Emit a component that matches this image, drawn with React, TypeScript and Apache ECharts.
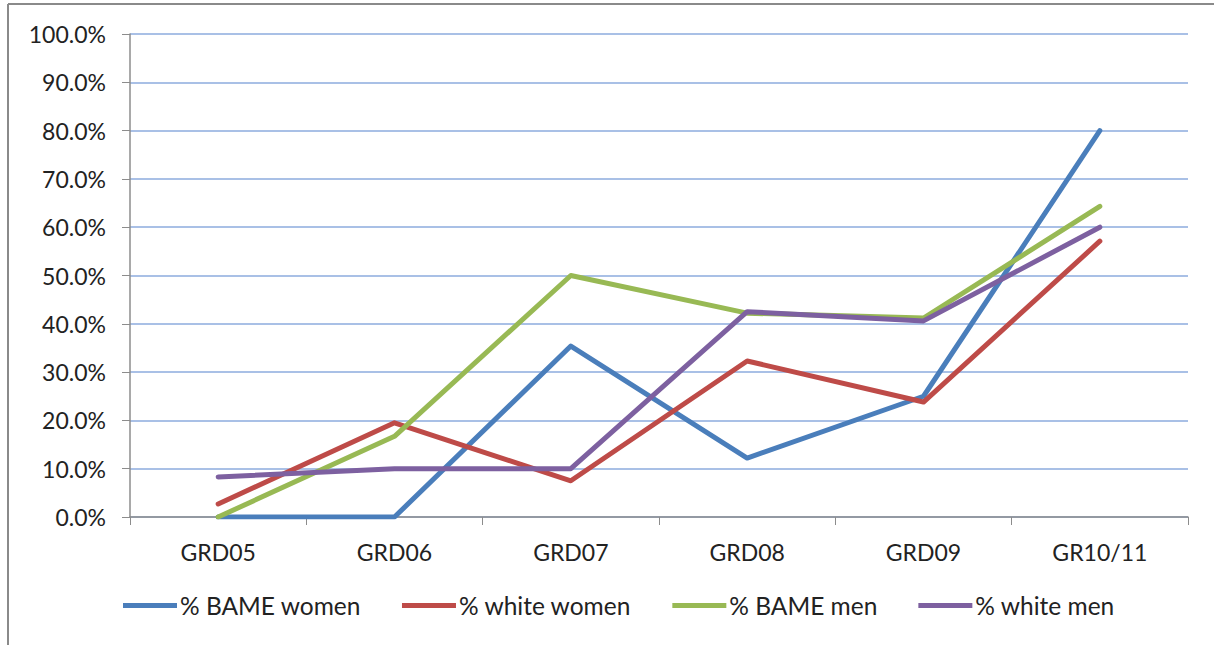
import React, { useEffect, useRef } from "react";
import * as echarts from "echarts";

const categories = ["GRD05", "GRD06", "GRD07", "GRD08", "GRD09", "GR10/11"];
const bameWomen = [0.0, 0.0, 35.4, 12.2, 25.0, 80.0];
const whiteWomen = [2.7, 19.5, 7.5, 32.3, 23.8, 57.1];
const bameMen = [0.0, 16.7, 50.0, 42.2, 41.2, 64.3];
const whiteMen = [8.3, 10.0, 10.0, 42.5, 40.6, 60.0];

const seriesDefs = [
  { name: "% BAME women", data: bameWomen, color: "#4A7EBB" },
  { name: "% white women", data: whiteWomen, color: "#BE4B48" },
  { name: "% BAME men", data: bameMen, color: "#98B954" },
  { name: "% white men", data: whiteMen, color: "#7D60A0" },
];

const FONT = "Lato, 'Open Sans', sans-serif";

export default function App() {
  const ref = useRef<HTMLDivElement>(null);

  useEffect(() => {
    document.body.style.margin = "0";
    const chart = echarts.init(ref.current!, null, { renderer: "svg" });
    chart.setOption({
      animation: false,
      backgroundColor: "#ffffff",
      textStyle: { fontFamily: FONT },
      graphic: [
        {
          type: "line",
          shape: { x1: 8, y1: 4, x2: 1214, y2: 4 },
          style: { stroke: "#8a8a8a", lineWidth: 2 },
        },
        {
          type: "line",
          shape: { x1: 8, y1: 4, x2: 8, y2: 645 },
          style: { stroke: "#8a8a8a", lineWidth: 2 },
        },
      ],
      grid: { left: 130, right: 26, top: 34, bottom: 128 },
      legend: {
        bottom: 22,
        left: 118,
        icon: "rect",
        itemWidth: 54,
        itemHeight: 5,
        itemGap: 41,
        textStyle: { fontFamily: FONT, fontSize: 24.5, color: "#222", padding: [0, 0, 0, -2] },
        data: seriesDefs.map((s) => s.name),
      },
      xAxis: {
        type: "category",
        data: categories,
        boundaryGap: true,
        axisLine: { lineStyle: { color: "#8c8c8c", width: 1.5 } },
        axisTick: { show: true, length: 8, lineStyle: { color: "#8c8c8c" } },
        axisLabel: { fontFamily: FONT, fontSize: 23, color: "#222", margin: 23 },
      },
      yAxis: {
        type: "value",
        min: 0,
        max: 100,
        interval: 10,
        axisLine: { show: true, lineStyle: { color: "#8c8c8c", width: 1.5 } },
        axisTick: { show: true, length: 8, lineStyle: { color: "#8c8c8c" } },
        axisLabel: {
          fontFamily: FONT,
          fontSize: 23,
          color: "#222",
          margin: 24,
          formatter: (v: number) => v.toFixed(1) + "%",
        },
        splitLine: { lineStyle: { color: "#A9C0E6", width: 2 } },
      },
      series: seriesDefs.map((s) => ({
        name: s.name,
        type: "line",
        data: s.data,
        showSymbol: false,
        symbol: "none",
        color: s.color,
        lineStyle: { color: s.color, width: 5, cap: "round", join: "round" },
      })),
    });
    return () => chart.dispose();
  }, []);

  return (
    <div
      ref={ref}
      style={{ position: "absolute", left: 0, top: 0, width: 1214, height: 645 }}
    />
  );
}
